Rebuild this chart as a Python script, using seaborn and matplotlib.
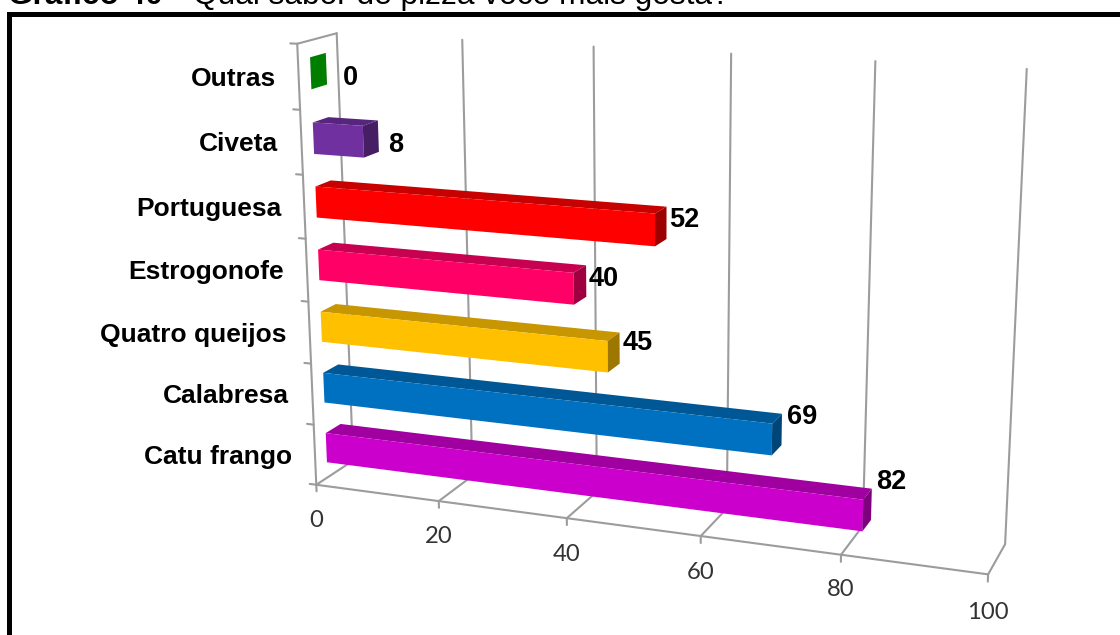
import numpy as np
import matplotlib
matplotlib.use("Agg")
import matplotlib.pyplot as plt
import seaborn as sns
from matplotlib.lines import Line2D
from matplotlib.patches import Polygon, Rectangle
from matplotlib.transforms import IdentityTransform, Transform

# Survey results
flavours = ["Outras", "Civeta", "Portuguesa", "Estrogonofe",
            "Quatro queijos", "Calabresa", "Catu frango"]
votes = [0, 8, 52, 40, 45, 69, 82]
bar_colours = ["#00CC00", "#7030A0", "#FF0000", "#FF0066",
               "#FFC000", "#0070C0", "#CC00CC"]
value_ticks = [0, 20, 40, 60, 80, 100]

W, H = 1120, 635
Y_TOP, Y_BOTTOM = -0.5, 6.5
Z_NEAR, Z_FAR = 0.30, 0.70

# Camera calibration: (value, category position, depth) -> pixel
calibration = [
    (0, Y_BOTTOM, 0, 316, 484), (20, Y_BOTTOM, 0, 439, 501),
    (40, Y_BOTTOM, 0, 567, 518), (60, Y_BOTTOM, 0, 701, 537),
    (80, Y_BOTTOM, 0, 841, 555), (100, Y_BOTTOM, 0, 988, 574),
    (0, Y_BOTTOM, 1, 353, 461), (100, Y_BOTTOM, 1, 1005, 544),
    (0, Y_TOP, 0, 297, 44), (0, Y_TOP, 1, 337, 33),
    (20, Y_TOP, 1, 462, 40), (40, Y_TOP, 1, 594, 47),
    (60, Y_TOP, 1, 731, 53), (80, Y_TOP, 1, 875, 61),
    (100, Y_TOP, 1, 1027, 69),
]


def solve_camera(points):
    rows = []
    for x, y, z, u, v in points:
        rows.append([x, y, z, 1, 0, 0, 0, 0, -u * x, -u * y, -u * z, -u])
        rows.append([0, 0, 0, 0, x, y, z, 1, -v * x, -v * y, -v * z, -v])
    return np.linalg.svd(np.array(rows, float))[2][-1].reshape(3, 4)


CAMERA = solve_camera(calibration)


def project(x, y, z):
    u, v, w = CAMERA @ np.array([x, y, z, 1.0])
    return u / w, H - v / w


class DepthPlane(Transform):
    """Maps (value, category position) data onto the plane at a given depth."""
    input_dims = output_dims = 2
    is_separable = False
    has_inverse = False

    def __init__(self, z):
        super().__init__()
        self.z = z

    def transform_non_affine(self, xy):
        xy = np.asarray(xy, float)
        full = np.column_stack([xy[:, 0], xy[:, 1],
                                np.full(len(xy), self.z), np.ones(len(xy))])
        uvw = full @ CAMERA.T
        return np.column_stack([uvw[:, 0] / uvw[:, 2],
                                H - uvw[:, 1] / uvw[:, 2]])


def shade(colour, factor):
    return tuple(c * factor for c in matplotlib.colors.to_rgb(colour))


sns.set_theme(style="white")
fig = plt.figure(figsize=(W / 100, H / 100), dpi=100, facecolor="white")
ax = fig.add_axes([0, 0, 1, 1])

sns.barplot(x=votes, y=flavours, hue=flavours, order=flavours,
            hue_order=flavours, palette=bar_colours, orient="h",
            width=0.49, legend=False, saturation=1, ax=ax)
ax.set_xlim(0, 100)
ax.set_ylim(Y_BOTTOM, Y_TOP)
ax.axis("off")

# Walls, floor and gridlines of the chart box
GRID = "#9C9C9C"


def edge(p, q, lw=1.5):
    a, b = project(*p), project(*q)
    ax.add_line(Line2D([a[0], b[0]], [a[1], b[1]], color=GRID, lw=lw,
                       transform=IdentityTransform(), clip_on=False,
                       zorder=1, solid_capstyle="round"))


edge((0, Y_BOTTOM, 0), (100, Y_BOTTOM, 0))
edge((0, Y_BOTTOM, 0), (0, Y_TOP, 0))
edge((0, Y_TOP, 0), (0, Y_TOP, 1))
for tick in value_ticks:
    edge((tick, Y_BOTTOM, 0), (tick, Y_BOTTOM, 1))
    edge((tick, Y_BOTTOM, 1), (tick, Y_TOP, 1))
    edge((tick, Y_BOTTOM, 0), (tick, Y_BOTTOM + 0.11, 0))
for boundary in np.arange(Y_TOP, Y_BOTTOM + 0.5):
    edge((0, boundary, 0), (-1.1, boundary, 0))

# Each seaborn bar becomes the front face of a box
front_plane = DepthPlane(Z_NEAR)
for rect in list(ax.patches):
    y0, x1 = rect.get_y(), rect.get_x() + rect.get_width()
    y1 = y0 + rect.get_height()
    idx = int(round((y0 + y1) / 2))
    colour = bar_colours[idx]
    rect.set_transform(front_plane)
    rect.set_clip_on(False)
    rect.set_zorder(4)
    rect.set_linewidth(0)
    top = [project(0, y0, Z_NEAR), project(x1, y0, Z_NEAR),
           project(x1, y0, Z_FAR), project(0, y0, Z_FAR)]
    side = [project(x1, y0, Z_NEAR), project(x1, y0, Z_FAR),
            project(x1, y1, Z_FAR), project(x1, y1, Z_NEAR)]
    if votes[idx] > 0:
        ax.add_patch(Polygon(top, closed=True, fc=shade(colour, 0.78), lw=0,
                             transform=IdentityTransform(), clip_on=False,
                             zorder=3))
    ax.add_patch(Polygon(side, closed=True, fc=shade(colour, 0.62), lw=0,
                         transform=IdentityTransform(), clip_on=False,
                         zorder=5))

# Text
SANS = "Liberation Sans"
for i, name in enumerate(flavours):
    x, y = project(0, i, 0)
    ax.annotate(name, (x, y), xycoords=IdentityTransform(),
                xytext=(-23, -9), textcoords="offset pixels",
                ha="right", va="baseline", family=SANS, fontweight="bold",
                fontsize=19, color="black")

# Label placement next to each bar end, in pixels
label_shift = [(16, 9), (10, 9), (3, -3), (2, -2), (3, -5), (5, -13), (5, -22)]
for i, v in enumerate(votes):
    x, y = project(v, i, Z_FAR)
    dx, dy = label_shift[i]
    ax.annotate(str(v), (x, y), xycoords=IdentityTransform(),
                xytext=(dx, -dy), textcoords="offset pixels",
                ha="left", va="center", family=SANS, fontweight="bold",
                fontsize=19.5, color="black")

tick_shift = [36, 35, 36, 36, 35, 38]
for tick, drop in zip(value_ticks, tick_shift):
    x, y = project(tick, Y_BOTTOM, 0)
    ax.annotate(str(tick), (x, y), xycoords=IdentityTransform(),
                xytext=(0, -drop), textcoords="offset pixels", ha="center",
                va="center", family="Lato", fontsize=17.2, color="#333333")

# Caption, cut by the top of the page
BASE = 1 - 4 / H
fig.text(8 / W, BASE, "Gráfico 40", family=SANS, fontweight="bold",
         fontsize=22.8, va="baseline", color="black")
fig.text(167 / W, BASE, "–", family=SANS, fontsize=22.8, va="baseline",
         color="black")
fig.text(193 / W, BASE, "Qual sabor de pizza você mais gosta?", family=SANS,
         fontsize=22.8, va="baseline", color="black")

# Heavy border that runs off the page on the right and bottom
fig.add_artist(Rectangle((8.5, -20), W + 40, H + 20 - 13.5, fill=False,
                         ec="black", lw=3.6, transform=IdentityTransform()))

fig.savefig("out.png", dpi=100)
